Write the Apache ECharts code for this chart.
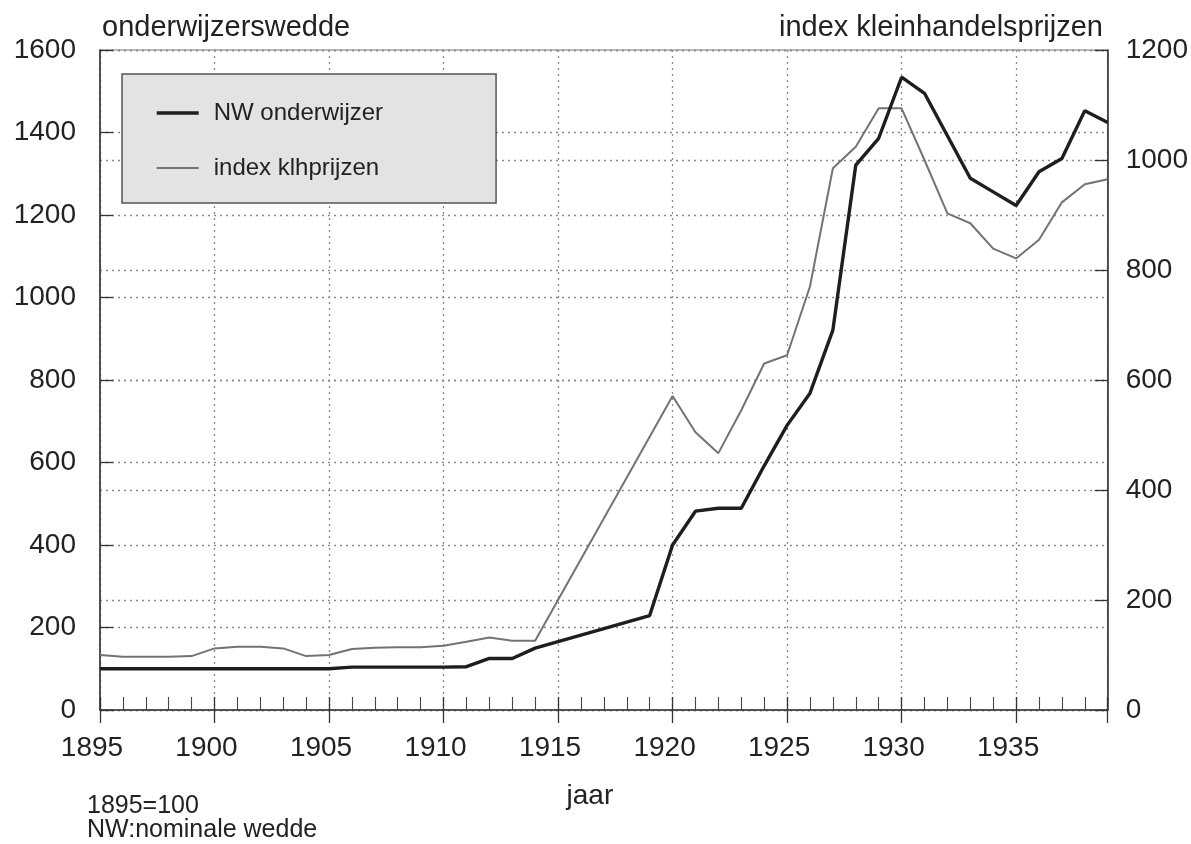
<!DOCTYPE html>
<html>
<head>
<meta charset="utf-8">
<script src="https://cdn.jsdelivr.net/npm/echarts@6/dist/echarts.min.js"></script>
<style>
html,body{margin:0;padding:0;background:#fff;overflow:hidden;}
#chart{width:1191px;height:844px;}
</style>
</head>
<body>
<div id="chart"></div>
<script>
// ---- data ----
var years = [1895,1896,1897,1898,1899,1900,1901,1902,1903,1904,1905,1906,1907,1908,1909,1910,1911,1912,1913,1914,1915,1916,1917,1918,1919,1920,1921,1922,1923,1924,1925,1926,1927,1928,1929,1930,1931,1932,1933,1934,1935,1936,1937,1938,1939];
var nwOnderwijzer = [100,100,100,100,100,100,100,100,100,100,100,104,104,104,104,104,105,125,125,150,null,null,null,null,229,400,482,489,489,592,690,768,921,1321,1386,1534,1495,1392,1289,1256,1223,1305,1337,1453,1424];
var indexKlhprijzen = [100,97,97,97,98,112,115,115,112,98,100,111,113,114,114,117,124,132,126,126,null,null,null,null,null,571,505,467,545,630,645,770,985,1024,1094,1094,1000,903,885,839,821,855,923,956,965];
var seriesNames = ['NW onderwijzer','index klhprijzen'];
var leftAxisName = 'onderwijzerswedde';
var rightAxisName = 'index kleinhandelsprijzen';
var xAxisName = 'jaar';
var notes = ['1895=100','NW:nominale wedde'];

function pairs(vals){
  var out = [];
  for (var i = 0; i < years.length; i++) out.push([years[i], vals[i]]);
  return out;
}

var FONT = '"Liberation Sans", Arial, Helvetica, sans-serif';
var TXT = '#222';
var THICK = '#1e1e1e', THIN = '#737373';
var gridLine = {show:true, lineStyle:{color:'#8a8a8a', type:[2,4], width:1.3}};

var chart = echarts.init(document.getElementById('chart'), null, {renderer:'canvas'});
chart.setOption({
  backgroundColor:'#ffffff',
  animation:false,
  textStyle:{fontFamily:FONT},
  title:[
    {text:leftAxisName, left:97, top:8, textStyle:{fontFamily:FONT, fontSize:29, fontWeight:'normal', color:TXT}},
    {text:rightAxisName, right:83, top:8, textStyle:{fontFamily:FONT, fontSize:29, fontWeight:'normal', color:TXT}}
  ],
  grid:{left:100, right:83, top:50, bottom:134, show:true, borderColor:'#777', borderWidth:1.2, backgroundColor:'transparent'},
  legend:{
    orient:'vertical', left:122, top:74,
    padding:[27,113,23,33],
    itemGap:31, itemWidth:42, itemHeight:24,
    backgroundColor:'#e3e3e3', borderColor:'#555', borderWidth:1.5,
    itemStyle:{opacity:0, borderWidth:0},
    textStyle:{fontFamily:FONT, fontSize:24, color:TXT, padding:[0,0,0,10]},
    data:[
      {name:seriesNames[0], lineStyle:{color:THICK, width:3.4}},
      {name:seriesNames[1], lineStyle:{color:THIN, width:2}}
    ]
  },
  xAxis:[{
    type:'value', min:1895, max:1939, interval:5,
    name:xAxisName, nameLocation:'middle', nameGap:72,
    nameTextStyle:{fontFamily:FONT, fontSize:28, color:TXT, padding:[0,28,0,0]},
    axisLine:{show:true, lineStyle:{color:'#333', width:1.5}},
    axisTick:{show:true, inside:true, length:13, lineStyle:{color:'#333', width:1.3}},
    minorTick:{show:true, splitNumber:5, length:13, lineStyle:{color:'#444', width:1.1}},
    axisLabel:{fontFamily:FONT, fontSize:28, color:TXT, margin:24, padding:[0,16,0,0], showMaxLabel:false,
      formatter:function(v){return (v % 5 === 0) ? String(v) : '';}},
    splitLine:gridLine
  },{
    type:'value', min:1895, max:1939, interval:5, position:'bottom',
    axisLine:{show:false},
    axisTick:{show:true, inside:false, length:13, lineStyle:{color:'#333', width:1.3}},
    axisLabel:{show:false},
    splitLine:{show:false}
  }],
  yAxis:[{
    type:'value', min:0, max:1600, interval:200, position:'left',
    axisLine:{show:true, lineStyle:{color:'#333', width:1.5}},
    axisTick:{show:true, inside:true, length:13, lineStyle:{color:'#333', width:1.3}},
    axisLabel:{fontFamily:FONT, fontSize:28, color:TXT, margin:24, formatter:function(v){return String(v);}},
    splitLine:gridLine
  },{
    type:'value', min:0, max:1200, interval:200, position:'right',
    axisLine:{show:true, lineStyle:{color:'#333', width:1.5}},
    axisTick:{show:true, inside:true, length:13, lineStyle:{color:'#333', width:1.3}},
    axisLabel:{fontFamily:FONT, fontSize:28, color:TXT, margin:18, formatter:function(v){return String(v);}},
    splitLine:gridLine
  }],
  series:[{
    name:seriesNames[0], type:'line', xAxisIndex:0, yAxisIndex:0,
    data:pairs(nwOnderwijzer), connectNulls:true,
    symbol:'none', showSymbol:false,
    lineStyle:{color:THICK, width:3.4},
    itemStyle:{color:THICK}, z:3
  },{
    name:seriesNames[1], type:'line', xAxisIndex:0, yAxisIndex:1,
    data:pairs(indexKlhprijzen), connectNulls:true,
    symbol:'none', showSymbol:false,
    lineStyle:{color:THIN, width:2},
    itemStyle:{color:THIN}, z:2
  }],
  graphic:[
    {type:'text', left:87, top:794, style:{text:notes[0], font:'25px ' + FONT, fill:TXT}},
    {type:'text', left:87, top:818, style:{text:notes[1], font:'25px ' + FONT, fill:TXT}}
  ]
});
</script>
</body>
</html>
